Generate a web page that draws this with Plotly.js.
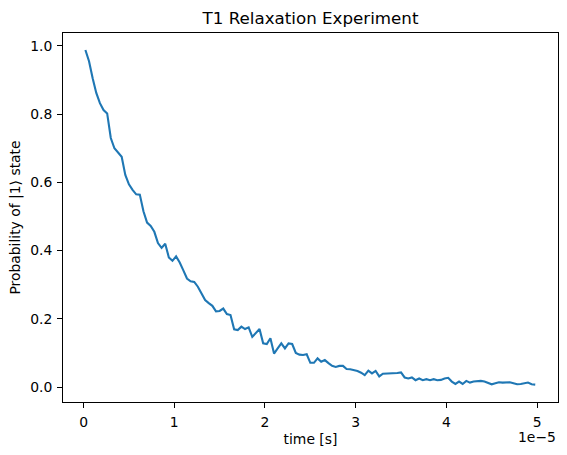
<!DOCTYPE html>
<html>
<head>
<meta charset="utf-8">
<script src="https://cdn.plot.ly/plotly-3.0.1.min.js"></script>
<style>html,body{margin:0;padding:0;background:#fff;}</style>
</head>
<body>
<div id="chart" style="width:567px;height:455px;"></div>
<script>
// Delay times in microseconds
const delaysUs = [
  0.2, 0.6, 1.0, 1.4, 1.8, 2.2, 2.6, 3.0, 3.4, 3.8,
  4.2, 4.6, 5.0, 5.4, 5.8, 6.2, 6.6, 7.0, 7.4, 7.8,
  8.2, 8.6, 9.0, 9.4, 9.8, 10.2, 10.6, 11.0, 11.4, 11.8,
  12.2, 12.6, 13.0, 13.4, 13.8, 14.2, 14.6, 15.0, 15.4, 15.8,
  16.2, 16.6, 17.0, 17.4, 17.8, 18.2, 18.6, 19.0, 19.4, 19.8,
  20.2, 20.6, 21.0, 21.4, 21.8, 22.2, 22.6, 23.0, 23.4, 23.8,
  24.2, 24.6, 25.0, 25.4, 25.8, 26.2, 26.6, 27.0, 27.4, 27.8,
  28.2, 28.6, 29.0, 29.4, 29.8, 30.2, 30.6, 31.0, 31.4, 31.8,
  32.2, 32.6, 33.0, 33.4, 33.8, 34.2, 34.6, 35.0, 35.4, 35.8,
  36.2, 36.6, 37.0, 37.4, 37.8, 38.2, 38.6, 39.0, 39.4, 39.8,
  40.2, 40.6, 41.0, 41.4, 41.8, 42.2, 42.6, 43.0, 43.4, 43.8,
  44.2, 44.6, 45.0, 45.4, 45.8, 46.2, 46.6, 47.0, 47.4, 47.8,
  48.2, 48.6, 49.0, 49.4, 49.8
];
// Measured probability of |1> state
const probOne = [
  0.988, 0.955, 0.905, 0.862, 0.832, 0.812, 0.802, 0.730, 0.700, 0.686,
  0.675, 0.622, 0.594, 0.578, 0.565, 0.564, 0.515, 0.482, 0.472, 0.455,
  0.422, 0.408, 0.420, 0.380, 0.370, 0.383, 0.365, 0.342, 0.318, 0.310,
  0.308, 0.294, 0.272, 0.255, 0.246, 0.238, 0.222, 0.223, 0.230, 0.214,
  0.211, 0.169, 0.167, 0.177, 0.170, 0.175, 0.147, 0.157, 0.170, 0.128,
  0.126, 0.143, 0.098, 0.113, 0.128, 0.113, 0.128, 0.126, 0.100, 0.095,
  0.094, 0.096, 0.071, 0.071, 0.084, 0.074, 0.079, 0.070, 0.062, 0.059,
  0.062, 0.062, 0.053, 0.052, 0.050, 0.047, 0.042, 0.035, 0.048, 0.040,
  0.047, 0.031, 0.039, 0.039, 0.039, 0.041, 0.041, 0.043, 0.028, 0.025,
  0.028, 0.020, 0.025, 0.020, 0.023, 0.020, 0.023, 0.020, 0.021, 0.025,
  0.027, 0.016, 0.009, 0.016, 0.009, 0.018, 0.013, 0.016, 0.017, 0.018,
  0.016, 0.011, 0.008, 0.011, 0.014, 0.013, 0.013, 0.014, 0.011, 0.008,
  0.009, 0.011, 0.013, 0.008, 0.007
];
const xTickVals = [0, 1e-5, 2e-5, 3e-5, 4e-5, 5e-5];
const xTickLabels = ["0", "1", "2", "3", "4", "5"];
const yTickVals = [0, 0.2, 0.4, 0.6, 0.8, 1.0];
const yTickLabels = ["0.0", "0.2", "0.4", "0.6", "0.8", "1.0"];

const timeSec = delaysUs.map(v => v * 1e-6);

const FONT = "DejaVu Sans, sans-serif";

const trace = {
  x: timeSec,
  y: probOne,
  type: "scatter",
  mode: "lines",
  line: {color: "#1f77b4", width: 2.1},
  hoverinfo: "skip"
};

const axisCommon = {
  showgrid: false,
  zeroline: false,
  showline: true,
  mirror: true,
  linecolor: "#000",
  linewidth: 1,
  ticks: "outside",
  ticklen: 5,
  tickwidth: 1,
  tickcolor: "#000",
  tickfont: {family: FONT, size: 13.9, color: "#000"}
};

const layout = {
  width: 567,
  height: 455,
  paper_bgcolor: "#fff",
  plot_bgcolor: "#fff",
  showlegend: false,
  margin: {l: 63, r: 9, t: 33, b: 53, pad: 0},
  font: {family: FONT, color: "#000"},
  title: {
    text: "T1 Relaxation Experiment",
    font: {family: FONT, size: 16.7, color: "#000"},
    xref: "paper", x: 0.5, xanchor: "center",
    yref: "container", y: 1 - 18 / 455, yanchor: "middle"
  },
  xaxis: Object.assign({}, axisCommon, {
    range: [-0.227e-5, 5.231e-5],
    tickmode: "array",
    tickvals: xTickVals,
    ticktext: xTickLabels,
    ticklabelstandoff: 2,
    title: {text: "time [s]", font: {family: FONT, size: 13.9, color: "#000"}, standoff: 5}
  }),
  yaxis: Object.assign({}, axisCommon, {
    range: [-0.0439, 1.0378],
    tickmode: "array",
    tickvals: yTickVals,
    ticktext: yTickLabels,
    ticklabelstandoff: 2,
    title: {text: "Probability of |1⟩ state", font: {family: FONT, size: 13.9, color: "#000"}, standoff: 6}
  }),
  annotations: [{
    text: "1e−5",
    xref: "paper", x: 1, xanchor: "right",
    yref: "paper", y: (402.3 - 437) / 369.6, yanchor: "middle",
    showarrow: false,
    font: {family: FONT, size: 13.9, color: "#000"}
  }]
};

Plotly.newPlot("chart", [trace], layout, {staticPlot: true, displayModeBar: false});
</script>
</body>
</html>
